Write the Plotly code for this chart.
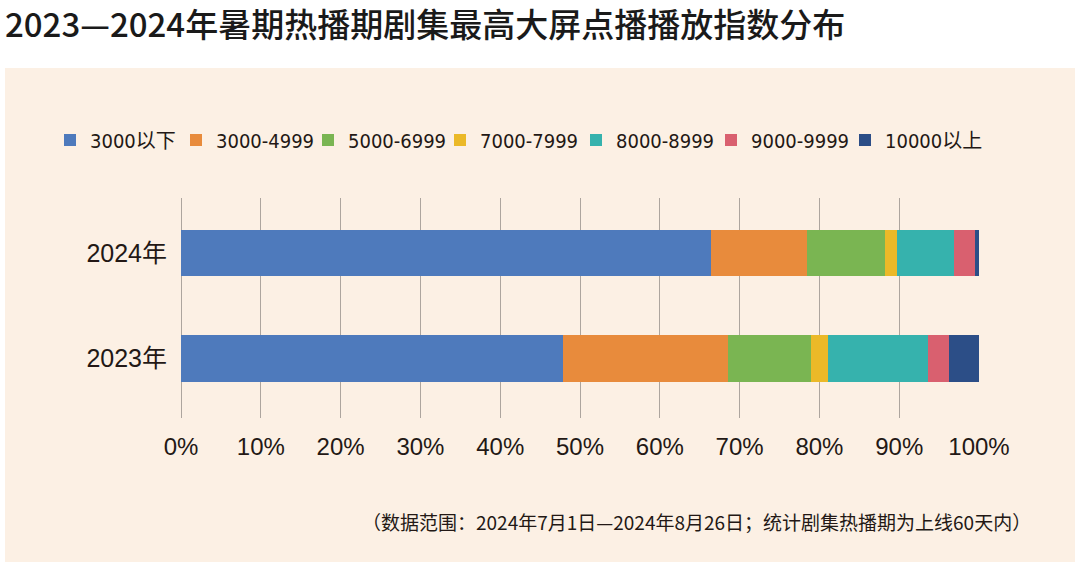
import plotly.graph_objects as go

categories = ["2023年", "2024年"]
series_names = ["3000以下", "3000-4999", "5000-6999", "7000-7999", "8000-8999", "9000-9999", "10000以上"]
values_2024 = [66.4, 12.1, 9.7, 1.5, 7.2, 2.6, 0.5]
values_2023 = [47.9, 20.7, 10.3, 2.2, 12.5, 2.6, 3.8]
tick_values = [0, 10, 20, 30, 40, 50, 60, 70, 80, 90, 100]
tick_labels = ["0%", "10%", "20%", "30%", "40%", "50%", "60%", "70%", "80%", "90%", "100%"]
colors = ["#4E7ABC", "#E88B3C", "#7AB552", "#EBB928", "#36B2AD", "#D9606F", "#2C4E87"]

W, H = 1080, 573
L, R, T, B = 181, 979, 198, 418
# legend entry left positions (px) for each series marker
LEG_MARKER_X = [74, 200, 332, 464, 600, 735, 869]

def legend_id(i):
    return "legend" if i == 0 else f"legend{i + 1}"

fig = go.Figure()
for i, name in enumerate(series_names):
    fig.add_trace(go.Bar(
        y=categories,
        x=[values_2023[i], values_2024[i]],
        name=name,
        orientation="h",
        marker=dict(color=colors[i], line=dict(width=0)),
        width=0.443,
        legend=legend_id(i),
        showlegend=True,
    ))

def px_x(p):
    return (p - L) / (R - L)

def px_y(p):
    return (B - p) / (B - T)

text_color = "#231815"
legend_font = dict(family="DejaVu Sans Condensed, Liberation Sans, Noto Sans CJK SC", size=20, color=text_color)

def legend_cfg(x_px):
    return dict(
        orientation="h",
        xref="container", yref="container",
        x=(x_px - 24) / W, xanchor="left",
        y=1 - 140 / H, yanchor="middle",
        font=legend_font,
        bgcolor="rgba(0,0,0,0)",
        itemwidth=30,
        visible=True,
    )

legends = {legend_id(i): legend_cfg(x) for i, x in enumerate(LEG_MARKER_X)}

fig.update_layout(
    width=W, height=H,
    barmode="stack",
    showlegend=True,
    paper_bgcolor="white",
    plot_bgcolor="rgba(0,0,0,0)",
    margin=dict(l=L, r=W - R, t=T, b=H - B, pad=0),
    title=dict(
        text="2023—2024年暑期热播期剧集最高大屏点播播放指数分布",
        xref="container", yref="container",
        x=5 / W, xanchor="left",
        y=1 - 25 / H, yanchor="middle",
        font=dict(family="Noto Sans CJK SC", size=33, color="#1a1a1a", weight=500),
    ),
    xaxis=dict(
        range=[0, 100],
        tickvals=tick_values,
        ticktext=tick_labels,
        showgrid=True,
        gridcolor="#ADA59E",
        gridwidth=1,
        zeroline=True,
        zerolinecolor="#ADA59E",
        zerolinewidth=1,
        showline=False,
        ticks="",
        ticklabelstandoff=12,
        tickfont=dict(family="Liberation Sans, Noto Sans CJK SC", size=24, color=text_color),
        fixedrange=True,
    ),
    yaxis=dict(
        type="category",
        categoryorder="array",
        categoryarray=categories,
        range=[-0.564, 1.521],
        showgrid=False,
        zeroline=False,
        showline=False,
        ticks="",
        ticklabelstandoff=13,
        tickfont=dict(family="Liberation Sans, Noto Sans CJK SC", size=25, color=text_color),
        fixedrange=True,
    ),
    shapes=[dict(
        type="rect", xref="paper", yref="paper",
        x0=px_x(5), x1=px_x(1075), y0=px_y(562), y1=px_y(68),
        fillcolor="#FCF0E4", line=dict(width=0), layer="below",
    )],
    annotations=[dict(
        text="（数据范围：2024年7月1日—2024年8月26日；统计剧集热播期为上线60天内）",
        xref="paper", yref="paper",
        x=px_x(1033), xanchor="right",
        y=px_y(521), yanchor="middle",
        showarrow=False,
        font=dict(family="Noto Sans CJK SC", size=19, color=text_color),
    )],
)
fig.update_layout(**legends)

fig.write_html("out.html")
